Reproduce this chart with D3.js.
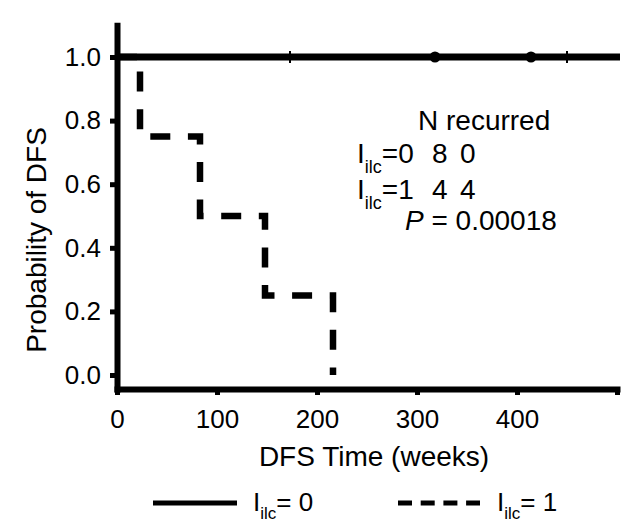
<!DOCTYPE html>
<html><head><meta charset="utf-8">
<script src="https://cdn.jsdelivr.net/npm/d3@7"></script>
<style>body{margin:0;background:#fff}svg{display:block;font-family:"Liberation Sans",Arial,sans-serif}</style>
</head><body><svg id="c" width="640" height="529"></svg>
<script>
const xTicks = [0, 100, 200, 300, 400, 500];
const xTickLabels = ["0", "100", "200", "300", "400", ""];
const yTicks = [0, 0.2, 0.4, 0.6, 0.8, 1.0];
const group0Times = [0, 503];
const group0Surv = [1, 1];
const group0CensorTicks = [173, 450];
const group0CensorDots = [318, 414];
const group1Times = [0, 23, 83, 148, 216];
const group1Surv = [1, 0.75, 0.5, 0.25, 0];
const tableHeader = "N recurred";
const tableGroups = ["0", "1"];
const tableN = ["8", "4"];
const tableRecurred = ["0", "4"];
const pValue = "0.00018";
const legendLabels = ["0", "1"];

const svg = d3.select("#c");
const x = d3.scaleLinear([0, 500], [117, 617]);
const y = d3.scaleLinear([0, 1], [375, 57]);
const yAx = d3.scaleLinear([-0.044, 1.1], [y(-0.044), y(1.1)]);

// axes
const gx = svg.append("g").attr("transform", `translate(0,${y(-0.044)})`)
  .call(d3.axisBottom(x).tickValues(xTicks).tickFormat((d, i) => xTickLabels[i]).tickSize(6).tickSizeOuter(0).tickPadding(15));
const gy = svg.append("g").attr("transform", `translate(${x(0)},0)`)
  .call(d3.axisLeft(yAx).tickValues(yTicks).tickFormat(d3.format(".1f")).tickSize(7).tickSizeOuter(0).tickPadding(9));
[gx, gy].forEach(g => {
  g.select(".domain").attr("stroke", "#000").attr("stroke-width", 6).attr("stroke-linecap", "square");
  g.selectAll(".tick line").attr("stroke", "#000").attr("stroke-width", 5);
  g.selectAll(".tick text").attr("fill", "#000").style("font-size", "26px").style("font-family", "'Liberation Sans',Arial,sans-serif");
});

// curves
const line = d3.line().x(d => x(d[0])).y(d => y(d[1])).curve(d3.curveStepAfter);
svg.append("path").datum(group1Times.map((t, i) => [t, group1Surv[i]]))
  .attr("d", line).attr("fill", "none").attr("stroke", "#000").attr("stroke-width", 6.5)
  .attr("stroke-dasharray", "20,17.6");
svg.append("path").datum(group0Times.map((t, i) => [t, group0Surv[i]]))
  .attr("d", line).attr("fill", "none").attr("stroke", "#000").attr("stroke-width", 7);
svg.selectAll(".ctick").data(group0CensorTicks).join("line")
  .attr("x1", d => x(d)).attr("x2", d => x(d)).attr("y1", y(1) - 6).attr("y2", y(1) + 6)
  .attr("stroke", "#000").attr("stroke-width", 2);
svg.selectAll(".cdot").data(group0CensorDots).join("circle")
  .attr("cx", d => x(d)).attr("cy", y(1)).attr("r", 5.5).attr("fill", "#000");

// axis titles
svg.append("text").attr("x", 374).attr("y", 466).attr("text-anchor", "middle")
  .style("font-size", "28px").text("DFS Time (weeks)");
svg.append("text").attr("transform", "translate(46,240) rotate(-90)").attr("text-anchor", "middle")
  .style("font-size", "28px").text("Probability of DFS");

// annotation table
function iLabel(sel, size, subSize, shift, suffix) {
  sel.append("tspan").text("I");
  sel.append("tspan").attr("dy", shift).style("font-size", subSize + "px").text("ilc");
  sel.append("tspan").attr("dy", -shift).text(suffix);
}
svg.append("text").attr("x", 418).attr("y", 130).style("font-size", "28px").text(tableHeader);
tableGroups.forEach((g, i) => {
  const yy = 163 + i * 36;
  const t = svg.append("text").attr("x", 357).attr("y", yy).style("font-size", "28px");
  iLabel(t, 28, 18, 10, "=" + g);
  svg.append("text").attr("x", 432).attr("y", yy).style("font-size", "28px").text(tableN[i]);
  svg.append("text").attr("x", 460).attr("y", yy).style("font-size", "28px").text(tableRecurred[i]);
});
const pt = svg.append("text").attr("x", 405).attr("y", 230).style("font-size", "28px");
pt.append("tspan").style("font-style", "italic").text("P");
pt.append("tspan").text(" = " + pValue);

// legend
const legendY = 503;
const legendItems = [
  {x1: 153, x2: 237, tx: 253, dash: null, label: legendLabels[0]},
  {x1: 398, x2: 480, tx: 497, dash: "14,8.7", label: legendLabels[1]}
];
legendItems.forEach(it => {
  svg.append("line").attr("x1", it.x1).attr("x2", it.x2).attr("y1", legendY).attr("y2", legendY)
    .attr("stroke", "#000").attr("stroke-width", 5).attr("stroke-dasharray", it.dash);
  const t = svg.append("text").attr("x", it.tx).attr("y", 511).style("font-size", "26px");
  iLabel(t, 26, 17, 7.5, "= " + it.label);
});
</script></body></html>
